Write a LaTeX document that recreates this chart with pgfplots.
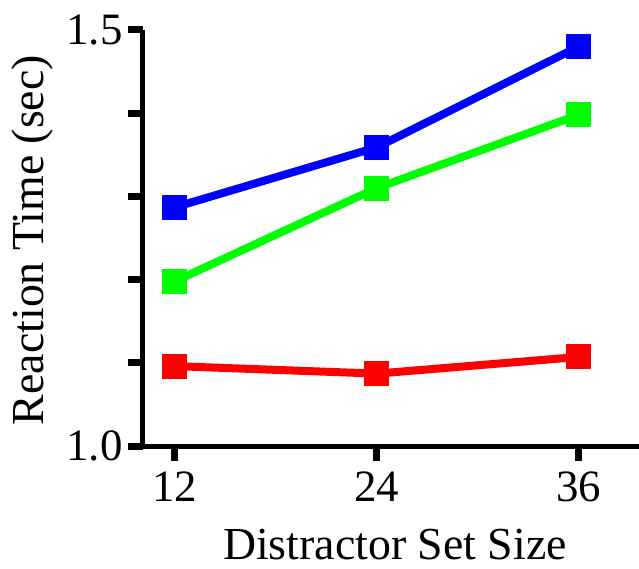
\documentclass[border=0pt]{standalone}
\usepackage{pgfplots}
\pgfplotsset{compat=1.18}
\usepackage{fontspec}
\setmainfont{Liberation Serif}
\begin{document}
\begin{tikzpicture}
\useasboundingbox (-143bp,-123bp) rectangle (496bp,446bp);
\begin{axis}[
  at={(0,0)}, anchor=south west,
  scale only axis, width=496bp, height=416bp,
  xmin=10.1, xmax=39.6, ymin=1.0, ymax=1.5,
  axis x line*=bottom, axis y line*=left,
  axis line style={line width=5bp, black},
  xtick={12,24,36},
  ytick={1.0,1.1,1.2,1.3,1.4,1.5},
  yticklabels={1.0,,,,,1.5},
  tick align=outside, major tick length=15bp,
  tick style={line width=7bp, black},
  /pgf/number format/assume math mode=true,
  tick label style={font=\fontsize{45}{52}\selectfont},
  xticklabel style={yshift=-7bp},
  yticklabel style={xshift=-2bp},
  label style={font=\fontsize{46}{54}\selectfont},
  xlabel={Distractor Set Size},
  ylabel={Reaction Time (sec)},
  xlabel style={at={(axis description cs:0.508,-0.238)}, anchor=center},
  ylabel style={at={(axis description cs:-0.222,0.495)}, anchor=center, rotate=0},
  clip=false,
]
\addplot[blue, line width=8bp, mark=square*, mark size=8.5bp] coordinates {(12,1.287) (24,1.359) (36,1.480)};
\addplot[green, line width=8bp, mark=square*, mark size=8.5bp] coordinates {(12,1.198) (24,1.310) (36,1.398)};
\addplot[red, line width=8bp, mark=square*, mark size=8.5bp] coordinates {(12,1.096) (24,1.087) (36,1.107)};
\end{axis}
\end{tikzpicture}
\end{document}
